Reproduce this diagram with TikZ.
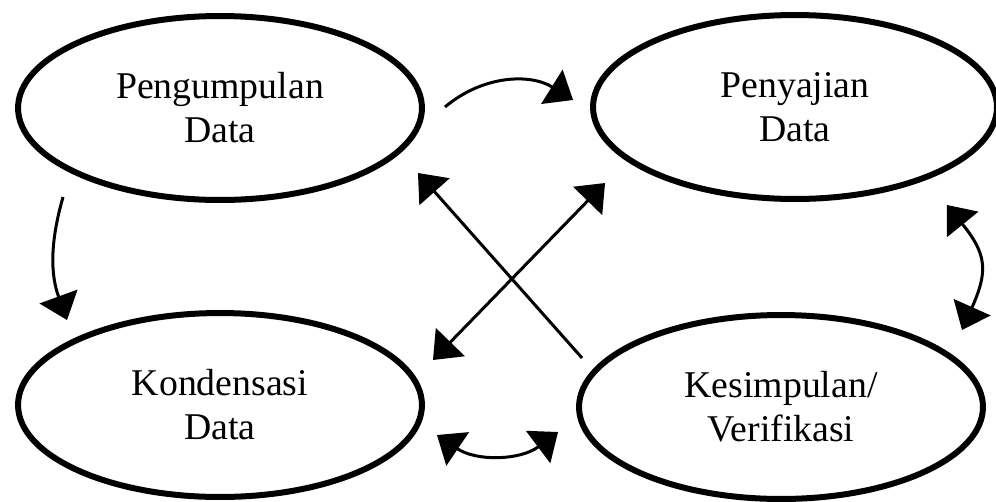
\documentclass[tikz,border=0pt]{standalone}
\usepackage{fontspec}
\setmainfont{Liberation Serif}
\usetikzlibrary{calc,shapes.geometric,arrows.meta}

\begin{document}
\begin{tikzpicture}[x=0.02cm,y=0.02cm]
  \useasboundingbox (0,0) rectangle (996,-501);
  \coordinate(start) at (220,-108);
  \begin{scope}[
    every node/.style={
      ellipse,
      draw,
      line width=0.12cm,
      minimum width=8.08cm,
      minimum height=3.68cm,
      align=center,
      font=\fontsize{21.5}{25}\selectfont,
    },
    ]
    \node (pengumpulan) at (start)                  {Pengumpulan\\Data};
    \node (penyajian)   at ($(start)+(575,1)$)      {Penyajian\\Data};
    \node (kondensasi)  at ($(start)+(0,-297)$)     {Kondensasi\\Data};
    \node (kesimpulan)  at ($(start)+(561,-299)$)   {Kesimpulan/\\Verifikasi};
  \end{scope}
  \begin{scope}[
    line width=0.06cm,
    >={Triangle[length=0.5cm,width=0.8cm]},
    ]
    \path
    ($(pengumpulan.east)+(20,1)$)   edge[->,out=40,in=148]
      ($(penyajian.west)+(-17,7)$)
    ($(pengumpulan.west)+(48,-89)$) edge[->,out=-106,in=110]
      ($(kondensasi.west)+(52,85)$)
    ($(kesimpulan.west)+(6,49)$)    edge[->]
      ($(pengumpulan.east)+(-7,-65)$)
    ($(kondensasi.east)+(12,-30)$)  edge[<->,out=-34,in=-143]
      ($(kesimpulan.west)+(-18,-25)$)
    ($(penyajian.east)+(-53,-98)$)  edge[<->,out=-51,in=66,looseness=1.3]
      ($(kesimpulan.east)+(-24,77)$)
    ($(kondensasi.east)+(8,45)$)    edge[<->]
      ($(penyajian.west)+(15,-76)$);
  \end{scope}
\end{tikzpicture}
\end{document}
